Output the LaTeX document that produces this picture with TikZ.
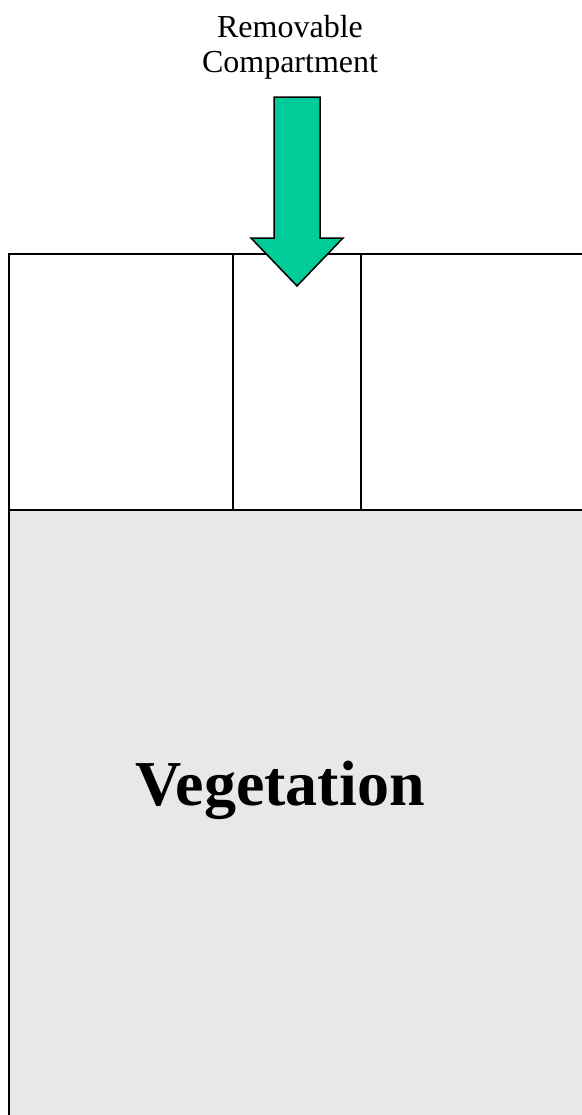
\documentclass[tikz,border=0pt]{standalone}
\usepackage{fontspec}
\setmainfont{Liberation Serif}
\usepackage{xcolor}
\usepackage{tikz}
\usetikzlibrary{positioning}
\definecolor{Ink}{HTML}{000000}
\definecolor{Plot}{HTML}{E8E8E8}
\definecolor{Mint}{HTML}{00CC99}
\tikzset{
  frame/.style={draw=Ink,line width=1pt},
  bed/.style={frame,fill=Plot},
  pointer/.style={draw=Ink,line width=0.75pt,fill=Mint,line join=miter},
  label/.style={font=\fontsize{16}{17.5}\selectfont,align=center,text=Ink,inner sep=0pt},
  title/.style={font=\fontsize{32}{36}\selectfont\bfseries,text=Ink,inner sep=0pt}
}
\begin{document}
\begin{tikzpicture}[x=0.5pt,y=-0.5pt]
  \clip (0,0) rectangle (582,1115);
  \fill[white] (0,0) rectangle (582,1115);
  % compartments along the top
  \draw[frame] (9,1140)--(9,254)--(610,254);
  \draw[frame] (233,254)--(233,510);
  \draw[frame] (361,254)--(361,510);
  % vegetation plot below
  \draw[bed] (9,510) rectangle (610,1140);
  \node[title] (veg) at (280,790) {Vegetation};
  % marker for the removable one
  \draw[pointer] (274,97)--(320,97)--(320,238)--(343,238)--(297,286)--(251,238)--(274,238)--cycle;
  \node[label,anchor=base] (tag) at (290,72) {Removable\\Compartment};
\end{tikzpicture}
\end{document}
